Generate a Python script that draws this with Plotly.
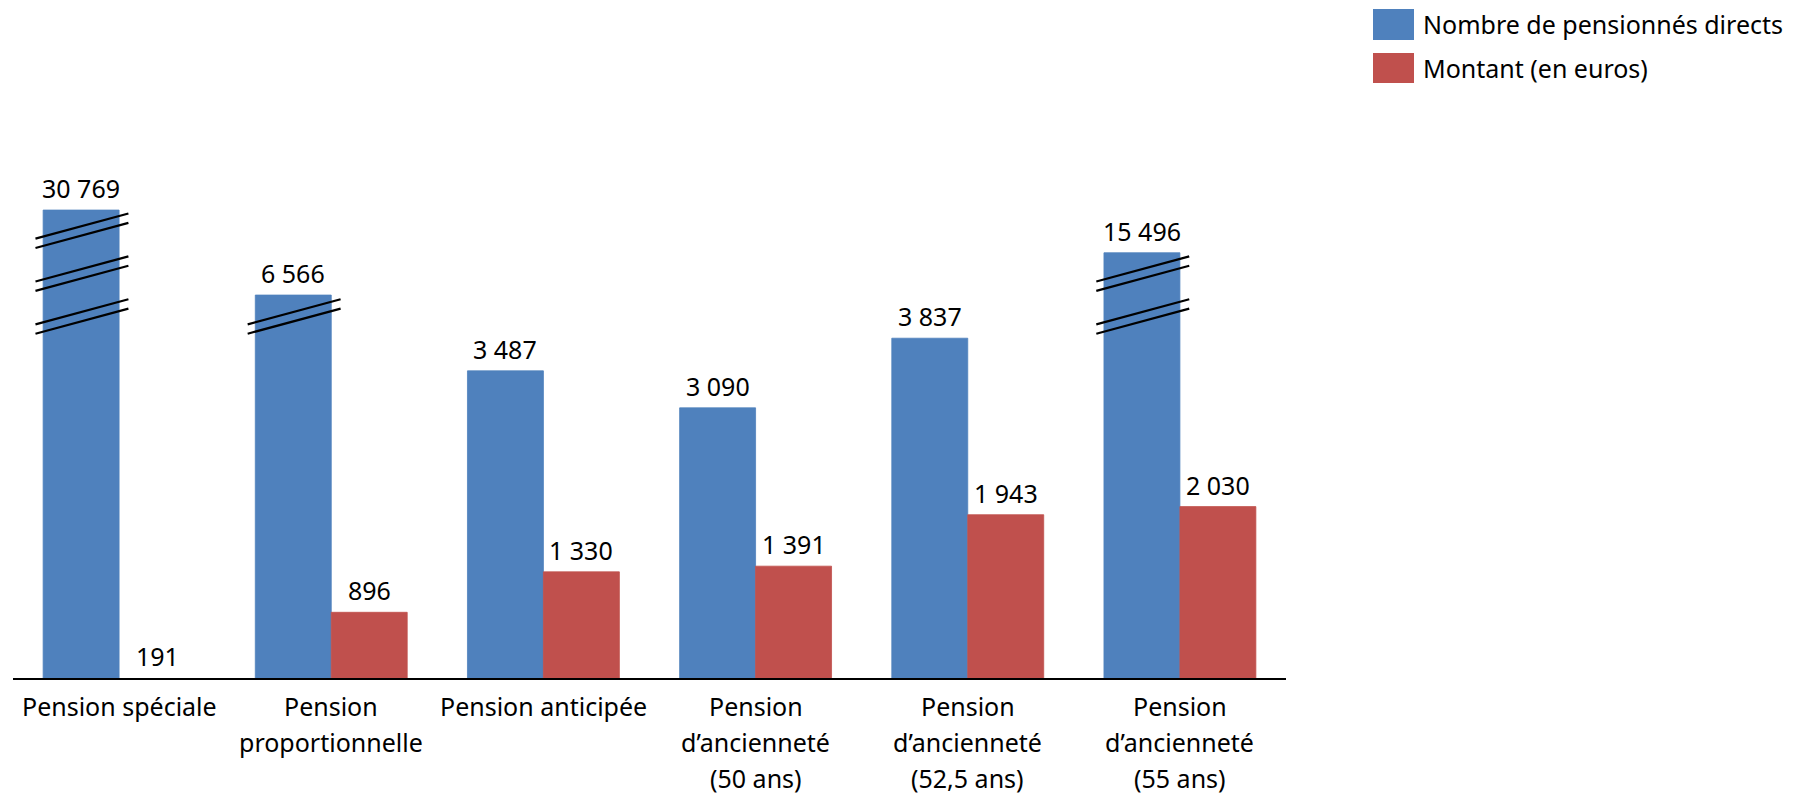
import plotly.graph_objects as go

# ---- data ----
categories = [
    "Pension spéciale",
    "Pension\nproportionnelle",
    "Pension anticipée",
    "Pension\nd’ancienneté\n(50 ans)",
    "Pension\nd’ancienneté\n(52,5 ans)",
    "Pension\nd’ancienneté\n(55 ans)",
]
series_names = ["Nombre de pensionnés directs", "Montant (en euros)"]
pensionnes = [30769, 6566, 3487, 3090, 3837, 15496]
montants = [191, 896, 1330, 1391, 1943, 2030]
# broken-axis: value at which over-tall bars are cut (None = not broken)
axis_break_caps = [5212, 4300, None, None, None, 4754]
break_levels = [4070, 4530, 4990]
y_axis_start = 191
y_axis_end = 6393

colors = ["#4F81BD", "#C0504D"]
FONT = "Noto Sans"
FS = 25


def fmt(v):
    return f"{v:,}".replace(",", " ")


x_idx = list(range(len(categories)))
blue_shown = [c if c is not None else v for v, c in zip(pensionnes, axis_break_caps)]


def seam_widths(vals):
    return [0 if v <= y_axis_start else 0.8 for v in vals]


fig = go.Figure()
fig.add_trace(go.Bar(x=x_idx, y=blue_shown, name=series_names[0],
                     marker=dict(color=colors[0],
                                 line=dict(color=colors[0], width=seam_widths(blue_shown))),
                     showlegend=False))
fig.add_trace(go.Bar(x=x_idx, y=montants, name=series_names[1],
                     marker=dict(color=colors[1],
                                 line=dict(color=colors[1], width=seam_widths(montants))),
                     showlegend=False))

group_w = 0.716
bar_w = group_w / 2
shapes = []
annotations = []

# value labels above bars
for i in x_idx:
    for vals, shown, off in ((pensionnes, blue_shown, -bar_w / 2),
                             (montants, montants, bar_w / 2)):
        annotations.append(dict(
            x=i + off, y=max(shown[i], y_axis_start), xref="x", yref="y",
            text=fmt(vals[i]), showarrow=False, xanchor="center",
            yanchor="middle", yshift=22,
            font=dict(family=FONT, size=FS, color="black"),
        ))

# break marks on cut bars
for i, cap in enumerate(axis_break_caps):
    if cap is None:
        continue
    for L in break_levels:
        if L > cap - 150:
            continue
        for off in (50, -50):
            mid = L + off
            shapes.append(dict(
                type="line", xref="x", yref="y",
                x0=i - bar_w - 0.036, x1=i + 0.044,
                y0=mid - 135, y1=mid + 135,
                line=dict(color="black", width=2.2),
            ))

# category labels, one annotation per line
for i, cat in enumerate(categories):
    for k, line in enumerate(cat.split("\n")):
        annotations.append(dict(
            x=i, y=0, xref="x", yref="paper", text=line, showarrow=False,
            xanchor="center", yanchor="middle", yshift=-(27.6 + 36.2 * k),
            font=dict(family=FONT, size=FS, color="black"),
        ))

# custom legend (large swatches); page coords -> plot-area fractions
PX0, PX1, PY0, PY1 = 13, 1286, 100, 678
legend_rows = [(9, 40), (53, 83)]
for (top, bot), name, col in zip(legend_rows, series_names, colors):
    shapes.append(dict(
        type="rect", xref="paper", yref="paper",
        x0=(1373 - PX0) / (PX1 - PX0), x1=(1414 - PX0) / (PX1 - PX0),
        y0=(PY1 - bot) / (PY1 - PY0), y1=(PY1 - top) / (PY1 - PY0),
        fillcolor=col, line=dict(width=0),
    ))
    annotations.append(dict(
        x=(1421 - PX0) / (PX1 - PX0), y=(PY1 - (top + bot) / 2) / (PY1 - PY0),
        xref="paper", yref="paper", text=name, showarrow=False,
        xanchor="left", yanchor="middle",
        font=dict(family=FONT, size=FS, color="black"),
    ))

fig.update_layout(
    width=1794, height=802,
    margin=dict(l=5, r=516, t=92, b=132),
    paper_bgcolor="white", plot_bgcolor="white",
    barmode="group", bargap=1 - group_w, bargroupgap=0,
    xaxis=dict(range=[-0.5, len(categories) - 0.5], showticklabels=False,
               showgrid=False, zeroline=False, showline=True,
               linecolor="black", linewidth=1.5, ticks=""),
    yaxis=dict(range=[y_axis_start, y_axis_end], visible=False,
               showgrid=False, zeroline=False),
    shapes=shapes, annotations=annotations,
    font=dict(family=FONT, size=FS, color="black"),
)

fig.write_html("out.html")
